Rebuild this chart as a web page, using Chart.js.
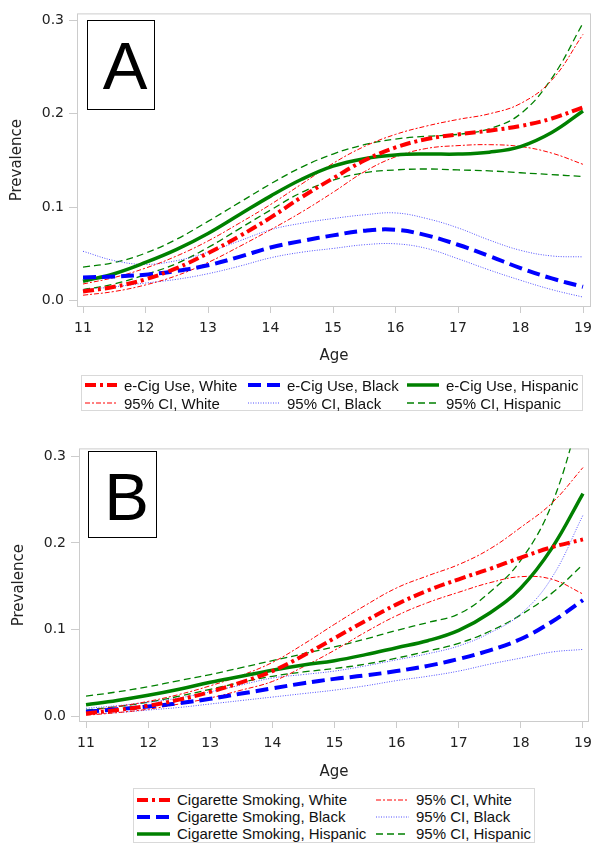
<!DOCTYPE html>
<html>
<head>
<meta charset="utf-8">
<script src="https://cdn.jsdelivr.net/npm/chart.js@4/dist/chart.umd.min.js"></script>
<style>
  body {
    margin: 0;
    background: #fff;
    width: 601px;
    height: 853px;
    position: relative;
    overflow: hidden;
    font-family: "Liberation Sans", Arial, sans-serif;
  }
  canvas { position: absolute; left: 0; }
  .panel-label {
    position: absolute;
    border: 1.5px solid #000;
    box-sizing: border-box;
    font-size: 67px;
    text-align: center;
    padding-left: 8px;
    color: #000;
  }
  .legend {
    position: absolute;
    border: 1px solid #d9d9d9;
    box-sizing: border-box;
    display: grid;
    font-size: 15px;
    color: #111;
  }
  .legend .item { display: flex; align-items: center; white-space: nowrap; }
  .legend svg { margin-right: 7px; flex: none; }
</style>
</head>
<body>
<canvas id="chartA" width="601" height="370" style="top:0px"></canvas>
<canvas id="chartB" width="601" height="350" style="top:435px"></canvas>

<div class="panel-label" style="left:87px;top:20px;width:68px;height:90px;line-height:90px;">A</div>
<div class="panel-label" style="left:88px;top:451px;width:69px;height:87px;line-height:89px;">B</div>

<div class="legend" id="legendA"
  style="left:81px;top:375px;width:502px;height:36px;padding-left:3px;grid-template-columns:163px 159px auto;grid-auto-rows:18px;"></div>
<div class="legend" id="legendB"
  style="left:133px;top:788px;width:402px;height:55px;padding-left:3px;padding-top:2px;grid-template-columns:239px auto;grid-auto-rows:17px;grid-auto-flow:column;grid-template-rows:17px 17px 17px;"></div>

<script>
const ages = [11, 11.5, 12, 12.5, 13, 13.5, 14, 14.5, 15, 15.5, 16, 16.5, 17, 17.5, 18, 18.5, 19];
const ageTicks = [11, 12, 13, 14, 15, 16, 17, 18, 19];
const prevTicks = [0, 0.1, 0.2, 0.3];

// Panel A: e-cig use
const ecigWhite   = [0.010, 0.015, 0.023, 0.035, 0.051, 0.069, 0.089, 0.111, 0.131, 0.150, 0.164, 0.173, 0.178, 0.182, 0.187, 0.195, 0.207];
const ecigWhiteHi = [0.018, 0.025, 0.035, 0.048, 0.064, 0.083, 0.103, 0.125, 0.147, 0.165, 0.178, 0.187, 0.194, 0.200, 0.211, 0.236, 0.285];
const ecigWhiteLo = [0.006, 0.010, 0.017, 0.027, 0.041, 0.058, 0.076, 0.095, 0.116, 0.138, 0.154, 0.163, 0.166, 0.167, 0.165, 0.158, 0.146];
const ecigBlack   = [0.025, 0.026, 0.028, 0.032, 0.038, 0.047, 0.057, 0.064, 0.070, 0.075, 0.076, 0.070, 0.060, 0.048, 0.035, 0.024, 0.015];
const ecigBlackHi = [0.053, 0.043, 0.039, 0.043, 0.052, 0.064, 0.076, 0.083, 0.088, 0.092, 0.094, 0.088, 0.078, 0.065, 0.054, 0.048, 0.047];
const ecigBlackLo = [0.012, 0.015, 0.019, 0.023, 0.029, 0.037, 0.046, 0.052, 0.056, 0.060, 0.061, 0.056, 0.045, 0.033, 0.022, 0.012, 0.004];
const ecigHisp    = [0.021, 0.029, 0.041, 0.055, 0.072, 0.092, 0.112, 0.130, 0.144, 0.152, 0.156, 0.157, 0.157, 0.159, 0.165, 0.180, 0.203];
const ecigHispHi  = [0.036, 0.041, 0.051, 0.066, 0.085, 0.105, 0.125, 0.143, 0.157, 0.167, 0.173, 0.176, 0.178, 0.184, 0.200, 0.238, 0.297];
const ecigHispLo  = [0.012, 0.018, 0.028, 0.040, 0.057, 0.077, 0.097, 0.116, 0.129, 0.137, 0.140, 0.141, 0.140, 0.139, 0.137, 0.135, 0.133];

// Panel B: cigarette smoking
const cigWhite   = [0.003, 0.007, 0.012, 0.019, 0.028, 0.039, 0.052, 0.070, 0.090, 0.110, 0.129, 0.145, 0.158, 0.170, 0.183, 0.195, 0.204];
const cigWhiteHi = [0.006, 0.011, 0.017, 0.025, 0.035, 0.047, 0.062, 0.083, 0.106, 0.128, 0.148, 0.162, 0.175, 0.193, 0.218, 0.246, 0.287];
const cigWhiteLo = [0.001, 0.004, 0.008, 0.014, 0.021, 0.030, 0.040, 0.057, 0.076, 0.097, 0.116, 0.131, 0.143, 0.154, 0.161, 0.158, 0.141];
const cigBlack   = [0.005, 0.008, 0.011, 0.015, 0.020, 0.026, 0.032, 0.038, 0.043, 0.047, 0.052, 0.058, 0.066, 0.076, 0.089, 0.109, 0.134];
const cigBlackHi = [0.009, 0.012, 0.016, 0.021, 0.028, 0.036, 0.044, 0.048, 0.052, 0.058, 0.065, 0.072, 0.081, 0.096, 0.118, 0.160, 0.232];
const cigBlackLo = [0.002, 0.004, 0.007, 0.010, 0.014, 0.018, 0.022, 0.026, 0.030, 0.035, 0.041, 0.046, 0.052, 0.060, 0.067, 0.074, 0.077];
const cigHisp    = [0.013, 0.018, 0.024, 0.031, 0.039, 0.046, 0.053, 0.059, 0.064, 0.071, 0.079, 0.087, 0.099, 0.119, 0.148, 0.194, 0.257];
const cigHispHi  = [0.023, 0.028, 0.034, 0.041, 0.048, 0.056, 0.064, 0.072, 0.080, 0.089, 0.099, 0.108, 0.118, 0.143, 0.180, 0.245, 0.360];
const cigHispLo  = [0.007, 0.011, 0.016, 0.023, 0.031, 0.039, 0.046, 0.051, 0.055, 0.060, 0.067, 0.075, 0.084, 0.098, 0.117, 0.142, 0.175];

const textColor = "#222";
const frameColor = "#cccccc";

const styles = {
  white:  { color: "#ff0000", width: 4, dash: [11, 4, 3, 4] },
  black:  { color: "#0000ff", width: 4, dash: [13, 6] },
  hisp:   { color: "#008000", width: 3.5, dash: [] },
  whiteCI: { color: "#ff0000", width: 1, dash: [5, 2, 2, 2] },
  blackCI: { color: "#5050ff", width: 1, dash: [1, 1.5] },
  hispCI:  { color: "#008000", width: 1.3, dash: [7, 4] },
};

function line(values, style, label) {
  return {
    label: label,
    data: values.map((v, i) => ({ x: ages[i], y: v })),
    borderColor: style.color,
    borderWidth: style.width,
    borderDash: style.dash,
    pointRadius: 0,
    fill: false,
    tension: 0.4,
  };
}

const framePlugin = {
  id: "frame",
  beforeDatasetsDraw(chart) {
    const { ctx, chartArea: a } = chart;
    ctx.save();
    ctx.strokeStyle = frameColor;
    ctx.lineWidth = 1;
    ctx.strokeRect(a.left + 0.5, a.top + 0.5, a.right - a.left - 1, a.bottom - a.top - 1);
    ctx.restore();
  },
};

function makeChart(id, datasets, cfg) {
  const tickFont = { family: "DejaVu Sans", size: 14 };
  const titleFont = { family: "DejaVu Sans", size: 15 };
  return new Chart(document.getElementById(id).getContext("2d"), {
    type: "line",
    data: { datasets: datasets },
    plugins: [framePlugin],
    options: {
      responsive: false,
      animation: false,
      layout: { padding: { top: 9, right: cfg.padRight, left: 0, bottom: 0 } },
      plugins: { legend: { display: false }, tooltip: { enabled: false } },
      scales: {
        x: {
          type: "linear",
          min: cfg.xMin,
          max: cfg.xMax,
          afterBuildTicks: (s) => { s.ticks = ageTicks.map((v) => ({ value: v })); },
          afterFit: (s) => { s.height = 63; },
          border: { display: false },
          grid: { drawOnChartArea: false, tickLength: 6, color: frameColor },
          ticks: { padding: 7, color: textColor, font: tickFont, maxRotation: 0, autoSkip: false },
          title: { display: true, text: "Age", color: textColor, font: titleFont, padding: { top: 0, bottom: cfg.xTitlePad } },
        },
        y: {
          min: cfg.yMin,
          max: cfg.yMax,
          afterBuildTicks: (s) => { s.ticks = prevTicks.map((v) => ({ value: v })); },
          afterFit: (s) => { s.width = cfg.yWidth; },
          border: { display: false },
          grid: { drawOnChartArea: false, tickLength: 8, color: frameColor },
          ticks: { padding: 5, color: textColor, font: tickFont, callback: (v) => v.toFixed(1) },
          title: { display: true, text: "Prevalence", color: textColor, font: titleFont, padding: { top: cfg.yTitlePad, bottom: 0 } },
        },
      },
    },
  });
}

makeChart("chartA", [
  line(ecigWhite, styles.white, "e-Cig Use, White"),
  line(ecigBlack, styles.black, "e-Cig Use, Black"),
  line(ecigHisp, styles.hisp, "e-Cig Use, Hispanic"),
  line(ecigWhiteHi, styles.whiteCI, "95% CI, White"),
  line(ecigWhiteLo, styles.whiteCI, "95% CI, White"),
  line(ecigBlackHi, styles.blackCI, "95% CI, Black"),
  line(ecigBlackLo, styles.blackCI, "95% CI, Black"),
  line(ecigHispHi, styles.hispCI, "95% CI, Hispanic"),
  line(ecigHispLo, styles.hispCI, "95% CI, Hispanic"),
], { xMin: 10.904, xMax: 19.128, yMin: -0.0066, yMax: 0.3074, padRight: 10, yWidth: 77, yTitlePad: 8, xTitlePad: 5 });

makeChart("chartB", [
  line(cigWhite, styles.white, "Cigarette Smoking, White"),
  line(cigBlack, styles.black, "Cigarette Smoking, Black"),
  line(cigHisp, styles.hisp, "Cigarette Smoking, Hispanic"),
  line(cigWhiteHi, styles.whiteCI, "95% CI, White"),
  line(cigWhiteLo, styles.whiteCI, "95% CI, White"),
  line(cigBlackHi, styles.blackCI, "95% CI, Black"),
  line(cigBlackLo, styles.blackCI, "95% CI, Black"),
  line(cigHispHi, styles.hispCI, "95% CI, Hispanic"),
  line(cigHispLo, styles.hispCI, "95% CI, Hispanic"),
], { xMin: 10.887, xMax: 19.097, yMin: -0.0068, yMax: 0.3091, padRight: 12, yWidth: 79, yTitlePad: 10, xTitlePad: 4 });

// legends
function legendItem(style, label, sampleWidth) {
  const el = document.createElement("div");
  el.className = "item";
  const w = Math.min(style.width, 4);
  el.innerHTML =
    `<svg width="${sampleWidth}" height="8"><line x1="0" y1="4" x2="${sampleWidth}" y2="4" stroke="${style.color}" stroke-width="${w}" stroke-dasharray="${style.dash.join(" ") || "none"}"/></svg>` +
    `<span>${label}</span>`;
  return el;
}

const legendA = document.getElementById("legendA");
[
  [styles.white, "e-Cig Use, White"],
  [styles.black, "e-Cig Use, Black"],
  [styles.hisp, "e-Cig Use, Hispanic"],
  [styles.whiteCI, "95% CI, White"],
  [styles.blackCI, "95% CI, Black"],
  [styles.hispCI, "95% CI, Hispanic"],
].forEach(([s, l]) => legendA.appendChild(legendItem(s, l, 32)));

const legendB = document.getElementById("legendB");
[
  [styles.white, "Cigarette Smoking, White"],
  [styles.black, "Cigarette Smoking, Black"],
  [styles.hisp, "Cigarette Smoking, Hispanic"],
  [styles.whiteCI, "95% CI, White"],
  [styles.blackCI, "95% CI, Black"],
  [styles.hispCI, "95% CI, Hispanic"],
].forEach(([s, l]) => legendB.appendChild(legendItem(s, l, 33)));
</script>
</body>
</html>
